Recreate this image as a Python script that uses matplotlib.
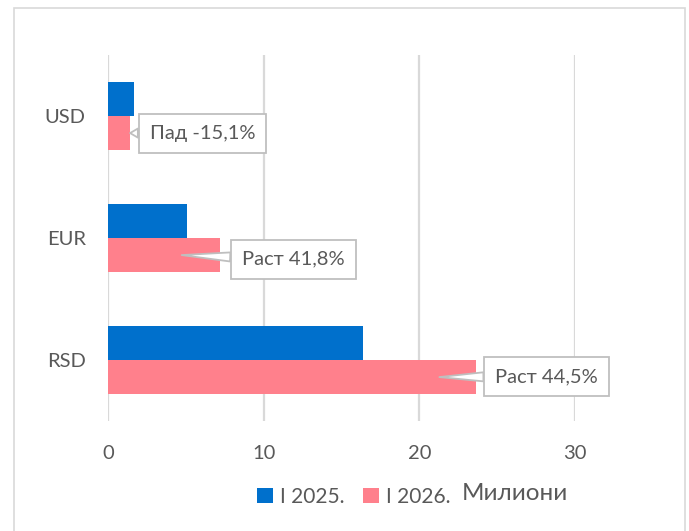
import matplotlib.pyplot as plt
from matplotlib.patches import Rectangle
import numpy as np

plt.rcParams['font.family'] = ['Lato', 'DejaVu Sans']

# Data (milions)
categories = ['RSD', 'EUR', 'USD']
values_2025 = [16.35, 5.07, 1.67]
values_2026 = [23.65, 7.17, 1.42]
labels = ['Раст 44,5%', 'Раст 41,8%', 'Пад -15,1%']
series_names = ['I 2025.', 'I 2026.']

BLUE = '#0070cc'
PINK = '#ff808c'
GRID = '#d9d9d9'
TEXT = '#595959'

fig = plt.figure(figsize=(6.89, 5.31), dpi=100)
ax = fig.add_axes([108 / 689, 1 - 421 / 531, 467 / 689, 366 / 531])

y = np.arange(len(categories))
h = 0.28
b1 = ax.barh(y + h / 2, values_2025, height=h, color=BLUE, label=series_names[0], zorder=2)
b2 = ax.barh(y - h / 2, values_2026, height=h, color=PINK, label=series_names[1], zorder=2)

ax.set_xlim(0, 30)
ax.set_ylim(-0.5, 2.5)
ax.set_xticks([0, 10, 20, 30])
ax.set_yticks(y)
ax.set_yticklabels(categories)
ax.grid(axis='x', color=GRID, linewidth=1.6, zorder=0)
ax.tick_params(length=0, labelsize=14.5, colors=TEXT)
ax.tick_params(axis='x', pad=17)
ax.tick_params(axis='y', pad=16)
for s in ax.spines.values():
    s.set_visible(False)

# callouts: (tip as fraction of bar, text x position)
callout_tip = [0.9, 0.66, 1.0]
callout_text_x = [28.17, 11.9, 6.06]
callout_dy = [0.005, -0.035, 0.0]
for i in range(len(categories)):
    yy = y[i] - h / 2
    ax.annotate(labels[i], xy=(values_2026[i] * callout_tip[i], yy),
                xytext=(callout_text_x[i], yy + callout_dy[i]),
                ha='center', va='center', fontsize=14.5, color=TEXT, zorder=5,
                bbox=dict(boxstyle='square,pad=0.55', fc='white', ec='#bfbfbf', lw=1.3),
                arrowprops=dict(arrowstyle='wedge,tail_width=0.45', fc='white',
                                ec='#bfbfbf', lw=1.3, shrinkA=0, shrinkB=0))

fig.legend(handles=[b1, b2], labels=series_names, loc='center',
           bbox_to_anchor=(354 / 689, 1 - 497 / 531), ncol=2, frameon=False,
           fontsize=15, labelcolor=TEXT, handlelength=0.75, handleheight=0.75,
           handletextpad=0.35, columnspacing=0.9)
fig.text(462 / 689, 1 - 493 / 531, 'Милиони', fontsize=17.5, color=TEXT, va='center')

fig.patches.append(Rectangle((14 / 689, -0.02), 671 / 689, 1.02 - 8 / 531,
                             transform=fig.transFigure, fill=False, ec=GRID, lw=1.2))

fig.savefig('out.png', dpi=100)
